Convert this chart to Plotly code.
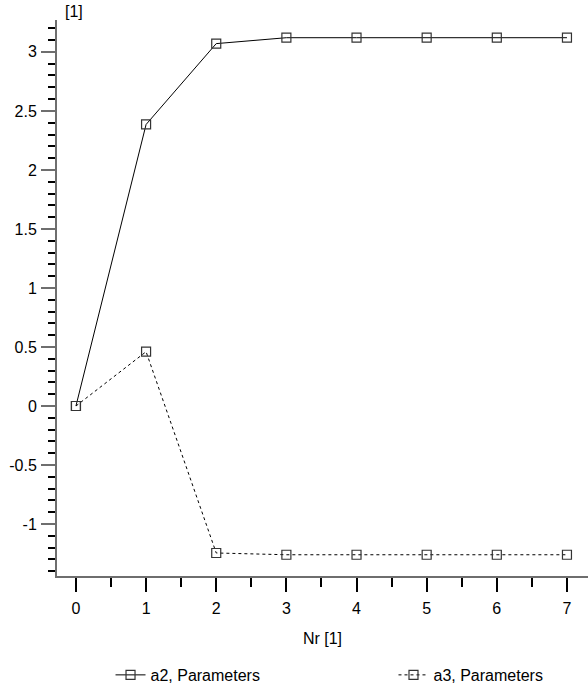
import plotly.graph_objects as go

nr = [0, 1, 2, 3, 4, 5, 6, 7]
a2 = [0.0, 2.385, 3.07, 3.12, 3.12, 3.12, 3.12, 3.12]
a3 = [0.0, 0.46, -1.245, -1.26, -1.26, -1.26, -1.26, -1.26]
y_ticks = [-1, -0.5, 0, 0.5, 1, 1.5, 2, 2.5, 3]
y_tick_text = ["-1", "-0.5", "0", "0.5", "1", "1.5", "2", "2.5", "3"]
x_ticks = [0, 1, 2, 3, 4, 5, 6, 7]

font = "Liberation Sans, Arial, Helvetica, sans-serif"
axis_col = "#6e6e6e"

fig = go.Figure()
fig.add_trace(go.Scatter(
    x=nr, y=a2, name="a2, Parameters", mode="lines+markers", showlegend=True,
    line=dict(color="black", width=1, dash="solid"),
    marker=dict(symbol="square-open", size=9, color="#333333", line=dict(width=1.2)),
    legend="legend"))
fig.add_trace(go.Scatter(
    x=nr, y=a3, name="a3, Parameters", mode="lines+markers", showlegend=True,
    line=dict(color="black", width=1, dash="dot"),
    marker=dict(symbol="square-open", size=9, color="#333333", line=dict(width=1.2)),
    legend="legend2"))

leg_common = dict(y=-0.178, xref="paper", yref="paper", xanchor="left", yanchor="middle",
                  orientation="h", font=dict(size=16), bgcolor="rgba(0,0,0,0)", visible=True)

fig.update_layout(
    width=588, height=684,
    margin=dict(l=57, r=0, t=20, b=108, autoexpand=False),
    paper_bgcolor="white", plot_bgcolor="white",
    font=dict(family=font, size=16, color="black"),
    showlegend=True,
    legend=dict(x=0.1008, **leg_common),
    legend2=dict(x=0.6337, **leg_common),
    annotations=[dict(text="[1]", x=0.011, y=1.0, xref="paper", yref="paper",
                      xanchor="left", yanchor="bottom", showarrow=False,
                      font=dict(size=16), yshift=-2)],
)

fig.update_xaxes(
    range=[-0.27, 7.3], showgrid=False, zeroline=False, automargin=False,
    showline=True, linecolor=axis_col, linewidth=2,
    tickvals=x_ticks, ticks="outside", ticklen=14, tickcolor="black", tickwidth=1.5,
    ticklabelstandoff=3,
    minor=dict(dtick=0.5, tick0=0, ticks="outside", ticklen=9, tickcolor="black", tickwidth=1.5),
    title=dict(text="Nr [1]", standoff=17, font=dict(size=16)),
)
fig.update_yaxes(
    range=[-1.44, 3.27], showgrid=False, zeroline=False, automargin=False,
    showline=True, linecolor=axis_col, linewidth=2,
    tickvals=y_ticks, ticktext=y_tick_text, ticks="outside", ticklen=14,
    tickcolor=axis_col, tickwidth=2, ticklabelstandoff=1,
    minor=dict(dtick=0.1, tick0=0, ticks="outside", ticklen=7, tickcolor="black", tickwidth=1.5),
)

fig.write_html("out.html", config={"displayModeBar": False},
               post_script="document.body.style.margin='0';")
